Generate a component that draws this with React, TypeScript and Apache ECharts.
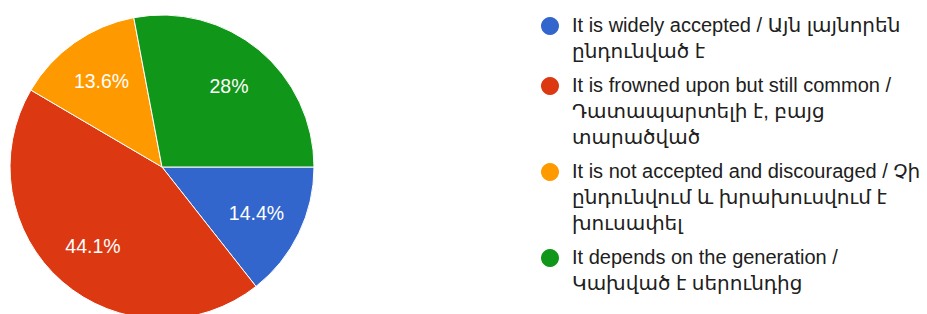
import React, { useEffect, useRef } from "react";
import * as echarts from "echarts";

const categoryLines: string[][] = [
  ["It is widely accepted / Այն լայնորեն", "ընդունված է"],
  ["It is frowned upon but still common /", "Դատապարտելի է, բայց", "տարածված"],
  ["It is not accepted and discouraged / Չի", "ընդունվում և խրախուսվում է", "խուսափել"],
  ["It depends on the generation /", "Կախված է սերունդից"],
];
const percentValues: number[] = [14.4, 44.1, 13.6, 28];
const sliceColors: string[] = ["#3366cc", "#dc3912", "#ff9900", "#109618"];

const FONT = '"Liberation Sans", Arial, "DejaVu Sans", sans-serif';

export default function App() {
  const ref = useRef<HTMLDivElement>(null);
  useEffect(() => {
    document.body.style.margin = "0";
    if (!ref.current) return;
    const chart = echarts.init(ref.current, undefined, { renderer: "svg" });
    const names = categoryLines.map((l) => l.join(" "));
    const data = names.map((n, i) => ({
      name: n,
      value: percentValues[i],
      itemStyle: { color: sliceColors[i] },
    }));

    const lineH = 26;
    const gap = 8;
    const graphics: any[] = [];
    let y = 25;
    categoryLines.forEach((lines, i) => {
      graphics.push({
        type: "circle",
        shape: { cx: 550, cy: y + 1, r: 9 },
        style: { fill: sliceColors[i] },
      });
      graphics.push({
        type: "text",
        x: 572,
        y: y - lineH / 2,
        style: {
          text: lines.join("\n"),
          fill: "#202020",
          font: `20px ${FONT}`,
          lineHeight: lineH,
          verticalAlign: "top",
          align: "left",
        },
      });
      y += lines.length * lineH + gap;
    });

    chart.setOption({
      animation: false,
      backgroundColor: "#ffffff",
      graphic: graphics,
      series: [
        {
          type: "pie",
          center: [162, 167],
          radius: [0, 152],
          startAngle: 0,
          clockwise: true,
          avoidLabelOverlap: false,
          label: { show: false },
          labelLine: { show: false },
          itemStyle: { borderColor: "#ffffff", borderWidth: 1 },
          emphasis: { disabled: true },
          data,
        },
        {
          type: "pie",
          center: [162, 167],
          radius: [52, 152],
          startAngle: 0,
          clockwise: true,
          silent: true,
          avoidLabelOverlap: false,
          itemStyle: { color: "transparent", borderWidth: 0 },
          label: {
            show: true,
            position: "inside",
            color: "#ffffff",
            fontSize: 19.5,
            fontFamily: FONT,
            formatter: (p: any) => `${p.value}%`,
          },
          labelLine: { show: false },
          emphasis: { disabled: true },
          data: names.map((n, i) => ({ name: n, value: percentValues[i] })),
        },
      ],
    });
    return () => chart.dispose();
  }, []);
  return <div ref={ref} style={{ width: 927, height: 314 }} />;
}
